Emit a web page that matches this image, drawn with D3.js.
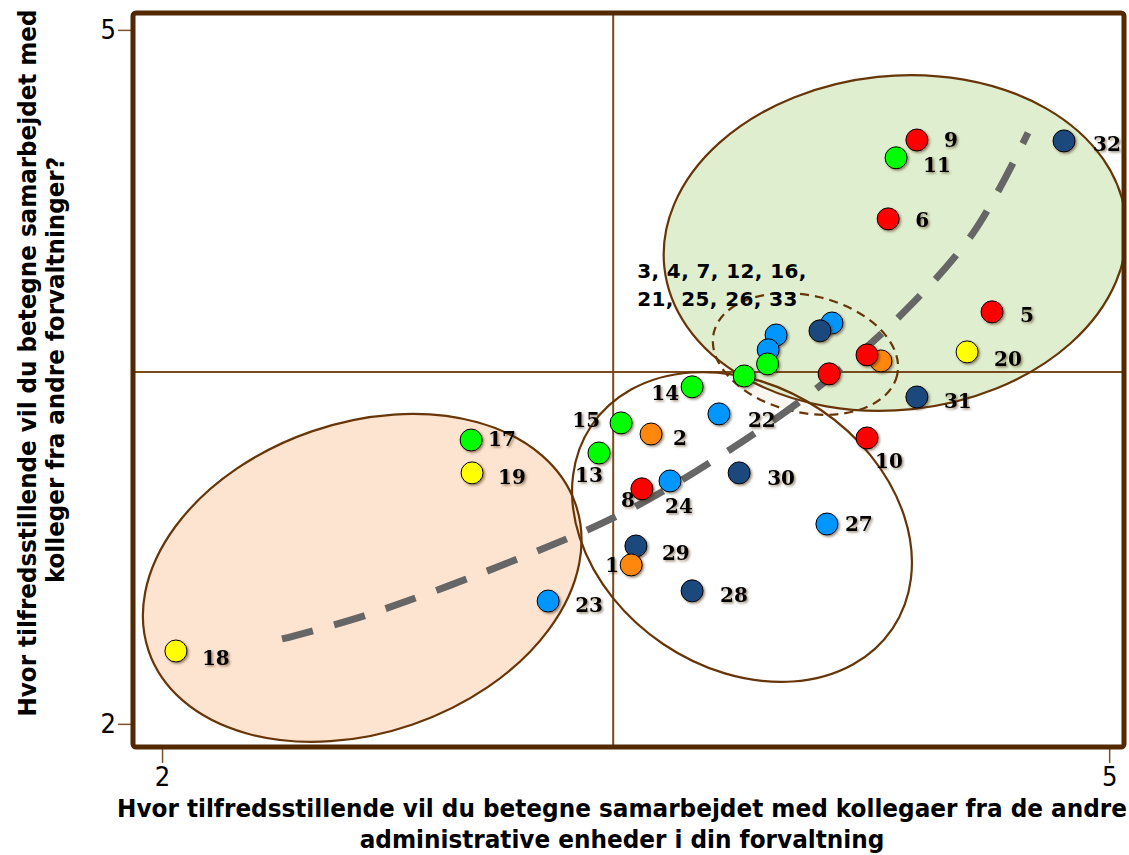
<!DOCTYPE html>
<html>
<head>
<meta charset="utf-8">
<script src="https://cdn.jsdelivr.net/npm/d3@7"></script>
<style>
body { margin: 0; background: #fff; }
svg { display: block; }
</style>
</head>
<body>
<div class="chart"></div>
<script>
// respondents: x = samarbejde i egen forvaltning, y = samarbejde med andre forvaltninger
var ids    = [1, 2, 5, 6, 8, 9, 10, 11, 13, 14, 15, 17, 18, 19, 20, 22, 23, 24, 27, 28, 29, 30, 31, 32,
              3, 4, 7, 12, 16, 21, 25, 26, 33];
var xVals  = [3.486, 3.549, 4.629, 4.300, 3.520, 4.391, 4.233, 4.325, 3.384, 3.679, 3.454, 2.979, 2.044, 2.982, 4.550, 3.764, 3.223, 3.609, 4.106, 3.679, 3.501, 3.828, 4.391, 4.857,
              3.945, 3.920, 3.918, 3.844, 4.122, 4.084, 4.113, 4.277, 4.233];
var yVals  = [2.687, 3.253, 3.781, 4.183, 3.016, 4.524, 3.236, 4.447, 3.171, 3.457, 3.301, 3.227, 2.315, 3.085, 3.608, 3.340, 2.531, 3.050, 2.864, 2.575, 2.769, 3.085, 3.413, 4.520,
              3.681, 3.617, 3.556, 3.504, 3.733, 3.699, 3.513, 3.569, 3.595];
var groups = ['orange', 'orange', 'red', 'red', 'red', 'red', 'red', 'green', 'green', 'green', 'green', 'green', 'yellow', 'yellow', 'yellow', 'blue', 'blue', 'blue', 'blue', 'navy', 'navy', 'navy', 'navy', 'navy',
              'blue', 'blue', 'green', 'green', 'blue', 'navy', 'red', 'orange', 'red'];
var clusterIds = [3, 4, 7, 12, 16, 21, 25, 26, 33];

var xTicks = [2, 5];
var yTicks = [2, 5];
var xExtent = [1.908, 5.047];
var yExtent = [1.900, 5.073];
var xMean = 3.429;
var yMean = 3.521;

// stiplet tendenslinje
var trendX = [2.380, 2.649, 3.143, 3.467, 3.774, 4.068, 4.331, 4.569, 4.743];
var trendY = [2.367, 2.471, 2.722, 2.916, 3.163, 3.444, 3.755, 4.122, 4.555];

// grupperinger (centrum, halvakser i akse-enheder, rotation i grader)
var ellipseNames = ['white', 'orange', 'dashed', 'green'];
var ellipseCx  = [3.837, 2.634, 4.038, 4.322];
var ellipseCy  = [2.851, 2.631, 3.599, 4.079];
var ellipseRx  = [0.575, 0.715, 0.298, 0.735];
var ellipseRy  = [0.610, 0.670, 0.253, 0.722];
var ellipseRot = [34, -19, 13, -6];

var xTitle = ['Hvor tilfredsstillende vil du betegne samarbejdet med kollegaer fra de andre',
              'administrative enheder i din forvaltning'];
var yTitle = ['Hvor tilfredsstillende vil du betegne samarbejdet med',
              'kolleger fra andre forvaltninger?'];

var color = {
	red: '#ff0000', green: '#00ff00', blue: '#0096ff',
	navy: '#1f497d', orange: '#ff870f', yellow: '#ffff00'
};
var ellipseFill = { white: '#ffffff', orange: '#fde4d1', dashed: '#f8f6f0', green: '#dfeecf' };

// label placering: [dx, dy, anchor]
var labelPos = {
	1: [-12, 0, 'end'], 2: [22, 4, 'start'], 5: [28, 3, 'start'], 6: [27, 1, 'start'],
	8: [-21, 11, 'start'], 9: [27, 0, 'start'], 10: [8, 23, 'start'], 11: [27, 7, 'start'],
	13: [-24, 22, 'start'], 14: [-13, 6, 'end'], 15: [-21, -3, 'end'], 17: [17, -1, 'start'],
	18: [26, 7, 'start'], 19: [26, 4, 'start'], 20: [27, 7, 'start'], 22: [29, 6, 'start'],
	23: [27, 4, 'start'], 24: [-5, 25, 'start'], 27: [18, 0, 'start'], 28: [28, 4, 'start'],
	29: [26, 7, 'start'], 30: [28, 5, 'start'], 31: [27, 4, 'start'], 32: [29, 3, 'start']
};

var fullWidth = 1129, fullHeight = 855;
var plot = {left: 133, right: 1124, top: 13, bottom: 747};

var svg = d3.select('.chart')
	.append('svg')
	.attr('width', fullWidth)
	.attr('height', fullHeight);

var defs = svg.append('defs');
defs.append('clipPath').attr('id', 'plotclip')
	.append('rect')
	.attr('x', plot.left).attr('y', plot.top)
	.attr('width', plot.right - plot.left).attr('height', plot.bottom - plot.top);
defs.append('filter').attr('id', 'shadow')
	.attr('x', '-30%').attr('y', '-30%').attr('width', '160%').attr('height', '160%')
	.append('feDropShadow')
	.attr('dx', 1.5).attr('dy', 1.5).attr('stdDeviation', 0.8)
	.attr('flood-color', '#4a3010').attr('flood-opacity', 0.55);

var xScale = d3.scaleLinear().domain(xExtent).range([plot.left, plot.right]);
var yScale = d3.scaleLinear().domain(yExtent).range([plot.bottom, plot.top]);
var kx = xScale(1) - xScale(0);
var ky = yScale(0) - yScale(1);

var data = [];
for (var i = 0; i < ids.length; i++) {
	data.push({id: ids[i], x: xVals[i], y: yVals[i], group: groups[i]});
}
// punkter til hoejre tegnes foerst
var drawOrder = data.slice().sort(function (a, b) {
	return (b.x - a.x) || (b.y - a.y);
});

var ellipses = ellipseNames.map(function (n, i) {
	return {name: n, cx: xScale(ellipseCx[i]), cy: yScale(ellipseCy[i]),
		rx: ellipseRx[i] * kx, ry: ellipseRy[i] * ky, rot: ellipseRot[i]};
});

var inner = svg.append('g').attr('clip-path', 'url(#plotclip)');

// fyld
inner.selectAll('.efill')
	.data(ellipses)
	.enter()
	.append('ellipse')
	.attr('class', 'efill')
	.attr('cx', function (d) { return d.cx; })
	.attr('cy', function (d) { return d.cy; })
	.attr('rx', function (d) { return d.rx; })
	.attr('ry', function (d) { return d.ry; })
	.attr('transform', function (d) { return 'rotate(' + d.rot + ',' + d.cx + ',' + d.cy + ')'; })
	.style('fill', function (d) { return ellipseFill[d.name]; })
	.style('stroke', 'none');

// middelvaerdi linjer
inner.append('line')
	.attr('x1', xScale(xMean)).attr('x2', xScale(xMean))
	.attr('y1', plot.top).attr('y2', plot.bottom)
	.style('stroke', '#7a4a1c').style('stroke-width', 2);
inner.append('line')
	.attr('x1', plot.left).attr('x2', plot.right)
	.attr('y1', yScale(yMean)).attr('y2', yScale(yMean))
	.style('stroke', '#7a4a1c').style('stroke-width', 2);

// omrids
inner.selectAll('.estroke')
	.data(ellipses)
	.enter()
	.append('ellipse')
	.attr('class', 'estroke')
	.attr('cx', function (d) { return d.cx; })
	.attr('cy', function (d) { return d.cy; })
	.attr('rx', function (d) { return d.rx; })
	.attr('ry', function (d) { return d.ry; })
	.attr('transform', function (d) { return 'rotate(' + d.rot + ',' + d.cx + ',' + d.cy + ')'; })
	.style('fill', 'none')
	.style('stroke', '#673507')
	.style('stroke-width', 2.2)
	.style('stroke-dasharray', function (d) { return d.name === 'dashed' ? '9,6' : null; });

// tendenslinje
var trend = trendX.map(function (v, i) { return {x: v, y: trendY[i]}; });
var line = d3.line()
	.x(function (d) { return xScale(d.x); })
	.y(function (d) { return yScale(d.y); })
	.curve(d3.curveCatmullRom);
inner.append('path')
	.attr('d', line(trend))
	.style('fill', 'none')
	.style('stroke', '#666666')
	.style('stroke-width', 7)
	.style('stroke-dasharray', '32,22');

// labels
inner.selectAll('.plabel')
	.data(data.filter(function (d) { return labelPos[d.id]; }))
	.enter()
	.append('text')
	.attr('class', 'plabel')
	.attr('x', function (d) { return xScale(d.x) + labelPos[d.id][0]; })
	.attr('y', function (d) { return yScale(d.y) + labelPos[d.id][1]; })
	.attr('dy', '0.36em')
	.attr('text-anchor', function (d) { return labelPos[d.id][2]; })
	.attr('filter', 'url(#shadow)')
	.style('font-family', '"DejaVu Serif", serif')
	.style('font-weight', 'bold')
	.style('font-size', '20px')
	.text(function (d) { return d.id; });

// klynge label
var clusterLabel = [clusterIds.slice(0, 5).join(', ') + ',', clusterIds.slice(5).join(', ')];
inner.selectAll('.clabel')
	.data(clusterLabel)
	.enter()
	.append('text')
	.attr('class', 'clabel')
	.attr('x', xScale(3.505))
	.attr('y', function (d, i) { return yScale(3.958) + i * 28; })
	.attr('dy', '0.36em')
	.style('font-family', '"DejaVu Sans", sans-serif')
	.style('font-weight', 'bold')
	.style('font-size', '20px')
	.style('letter-spacing', '0.4px')
	.text(function (d) { return d; });

// punkter
inner.selectAll('.dot')
	.data(drawOrder)
	.enter()
	.append('circle')
	.attr('class', 'dot')
	.attr('cx', function (d) { return xScale(d.x); })
	.attr('cy', function (d) { return yScale(d.y); })
	.attr('r', 11)
	.attr('filter', 'url(#shadow)')
	.style('fill', function (d) { return color[d.group]; })
	.style('stroke', '#000')
	.style('stroke-width', 1);

// akser
var xAxis = d3.axisBottom(xScale).tickValues(xTicks).tickFormat(d3.format('d'))
	.tickSize(14).tickSizeOuter(0).tickPadding(4);
var yAxis = d3.axisLeft(yScale).tickValues(yTicks).tickFormat(d3.format('d'))
	.tickSize(14).tickSizeOuter(0).tickPadding(2);

var gx = svg.append('g')
	.attr('class', 'xaxis')
	.attr('transform', 'translate(0,' + (plot.bottom + 2) + ')')
	.call(xAxis);
var gy = svg.append('g')
	.attr('class', 'yaxis')
	.attr('transform', 'translate(' + (plot.left - 1) + ',0)')
	.call(yAxis);

[gx, gy].forEach(function (g) {
	g.select('.domain').remove();
	g.selectAll('.tick line').style('stroke', '#7a5230').style('stroke-width', 1.5);
	g.selectAll('.tick text')
		.style('font-family', '"DejaVu Sans Condensed", "DejaVu Sans", sans-serif')
		.style('font-size', '27px')
		.style('fill', '#000');
});

// ramme
svg.append('rect')
	.attr('x', plot.left).attr('y', plot.top)
	.attr('width', plot.right - plot.left).attr('height', plot.bottom - plot.top)
	.attr('rx', 3)
	.style('fill', 'none')
	.style('stroke', '#522900')
	.style('stroke-width', 5);

// aksetitler: lidt smallere skrift presses til referencens bredde
var titleFont = '"DejaVu Sans Condensed", "DejaVu Sans", sans-serif';

function squeeze(sel, ratio) {
	sel.each(function () {
		var w = this.getComputedTextLength();
		d3.select(this).attr('textLength', w * ratio).attr('lengthAdjust', 'spacingAndGlyphs');
	});
}

var xt = svg.append('g').attr('class', 'xtitle');
xt.selectAll('text')
	.data(xTitle)
	.enter()
	.append('text')
	.attr('x', 622)
	.attr('y', function (d, i) { return 817 + i * 31; })
	.attr('text-anchor', 'middle')
	.style('font-family', titleFont)
	.style('font-weight', 'bold')
	.style('font-size', '24px')
	.text(function (d) { return d; });
var xRatio = 1010 / xt.select('text').node().getComputedTextLength();
squeeze(xt.selectAll('text'), xRatio);

var yt = svg.append('g').attr('class', 'ytitle');
yt.selectAll('text')
	.data(yTitle)
	.enter()
	.append('text')
	.attr('transform', function (d, i) {
		return 'translate(' + (36 + i * 28) + ',' + (i === 0 ? 363 : 370) + ') rotate(-90)';
	})
	.attr('text-anchor', 'middle')
	.style('font-family', titleFont)
	.style('font-weight', 'bold')
	.style('font-size', '24px')
	.text(function (d) { return d; });
var yRatio = 707 / yt.select('text').node().getComputedTextLength();
squeeze(yt.selectAll('text'), yRatio);
</script>
</body>
</html>
